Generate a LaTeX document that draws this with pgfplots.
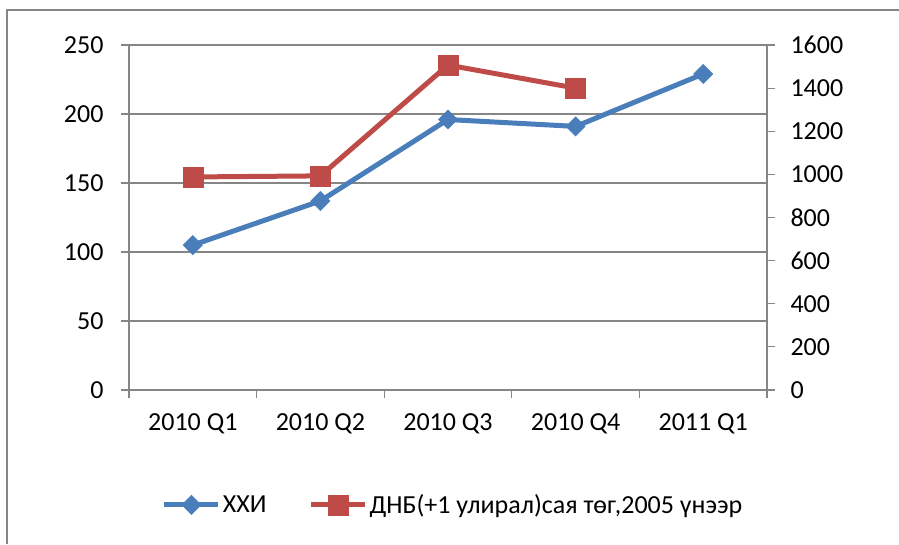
\documentclass[border=0pt]{standalone}
\usepackage{pgfplots}
\pgfplotsset{compat=1.18}
\usepackage{fontspec}
\setmainfont{Carlito}
\definecolor{xblue}{HTML}{4A7EBB}
\definecolor{xred}{HTML}{BE4B48}
\definecolor{xgray}{HTML}{868686}
\begin{document}
\begin{tikzpicture}
\useasboundingbox (0,0) rectangle (899pt,544pt);
\draw[xgray, line width=1.2pt] (7pt,0pt) -- (7pt,534pt) -- (899pt,534pt);
\pgfplotsset{every axis/.append style={
  scale only axis, width=638pt, height=345pt,
  at={(129pt,154pt)}, anchor=south west,
  xmin=-0.5, xmax=4.5,
  font=\fontsize{26}{30}\selectfont,
  /pgf/number format/assume math mode=true,
  /pgf/number format/1000 sep={},
  axis line style={xgray, line width=1.2pt},
  tick style={xgray, line width=1.2pt},
  major tick length=8pt,
  tick align=outside,
  clip=false,
}}
\begin{axis}[
  ymin=0, ymax=250, ytick={0,50,...,250},
  ymajorgrids, grid style={xgray, line width=1.2pt},
  xtick={-0.5,0.5,...,4.5}, xticklabels={},
  extra x ticks={0,1,2,3,4},
  extra x tick labels={2010 Q1,2010 Q2,2010 Q3,2010 Q4,2011 Q1},
  extra x tick style={major tick length=0pt, xticklabel style={yshift=-20pt}},
  xtick pos=bottom, ytick pos=left,
  yticklabel style={xshift=-14pt},
  legend style={at={(rel axis cs:0.508,-0.333)}, anchor=center, draw=none, fill=none,
    legend columns=2, nodes={inner sep=2pt},
    /tikz/every even column/.append style={column sep=40pt}},
  legend image code/.code={\draw[mark repeat=2,mark phase=2,#1] plot coordinates {(0pt,0pt) (27pt,0pt) (54pt,0pt)};},
]
\addplot[xblue, line width=5pt, mark=square*, mark size=6.8pt, mark options={rotate=45, line width=0.5pt, solid}]
  coordinates {(0,105) (1,137) (2,196) (3,191) (4,229)};
\addlegendentry{ХХИ}
\addlegendimage{xred, line width=5pt, mark=square*, mark size=10pt, mark options={line width=0.5pt, solid}}
\addlegendentry{ДНБ(+1 улирал)сая төг,2005 үнээр}
\end{axis}
\begin{axis}[
  ymin=0, ymax=1600, ytick={0,200,...,1600},
  axis y line*=right, axis x line=none,
  yticklabel style={xshift=12pt},
]
\addplot[xred, line width=5pt, mark=square*, mark size=10pt, mark options={line width=0.5pt, solid}]
  coordinates {(0,988) (1,993) (2,1507) (3,1400)};
\end{axis}
\end{tikzpicture}
\end{document}
